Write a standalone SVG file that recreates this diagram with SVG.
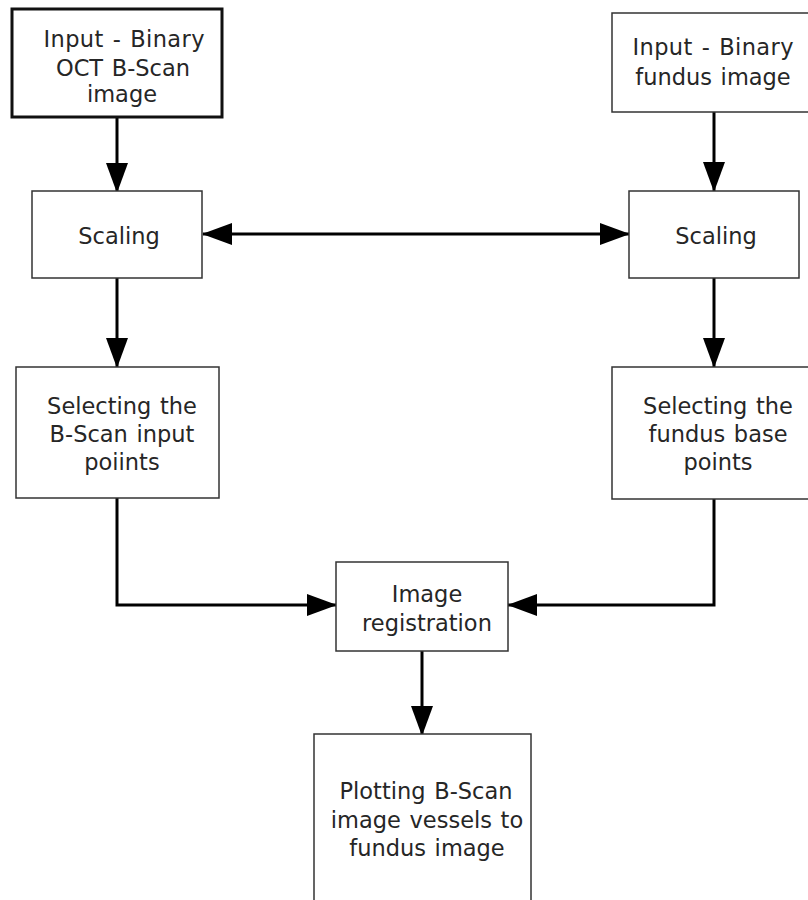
<svg xmlns="http://www.w3.org/2000/svg" width="808" height="900" viewBox="0 0 808 900">
<defs>
<style>
.box{fill:#fff;stroke:#333;stroke-width:1.5}
.thick{fill:#fff;stroke:#111;stroke-width:3}
.t{font-family:"DejaVu Sans",Verdana,sans-serif;font-size:22.5px;fill:#262626;text-anchor:middle;word-spacing:1.5px}
.c{fill:none;stroke:#000;stroke-width:3}
</style>
<marker id="ah" markerUnits="userSpaceOnUse" markerWidth="30" markerHeight="22" viewBox="0 0 30 22" refX="29" refY="11" orient="auto-start-reverse">
<path d="M0,0 L30,11 L0,22 z" fill="#000"/>
</marker>
</defs>
<rect width="808" height="900" fill="#fff"/>
<g id="connectors">
<line class="c" x1="117" y1="117" x2="117" y2="192" marker-end="url(#ah)"/>
<line class="c" x1="714" y1="112" x2="714" y2="191" marker-end="url(#ah)"/>
<line class="c" x1="203" y1="234" x2="629" y2="234" marker-start="url(#ah)" marker-end="url(#ah)"/>
<line class="c" x1="117" y1="278" x2="117" y2="367" marker-end="url(#ah)"/>
<line class="c" x1="714" y1="278" x2="714" y2="367" marker-end="url(#ah)"/>
<polyline class="c" points="117,498 117,605 336,605" marker-end="url(#ah)"/>
<polyline class="c" points="714,499 714,605 508,605" marker-end="url(#ah)"/>
<line class="c" x1="422" y1="651" x2="422" y2="735" marker-end="url(#ah)"/>
</g>
<g id="n1">
<rect class="thick" x="12" y="9" width="210" height="108"/>
<text class="t" x="124" y="47" textLength="161" lengthAdjust="spacing">Input - Binary</text>
<text class="t" x="123" y="76">OCT B-Scan</text>
<text class="t" x="122" y="102">image</text>
</g>
<g id="n2">
<rect class="box" x="612" y="13" width="200" height="99"/>
<text class="t" x="713" y="55" textLength="161" lengthAdjust="spacing">Input - Binary</text>
<text class="t" x="713" y="85">fundus image</text>
</g>
<g id="n3">
<rect class="box" x="32" y="191" width="170" height="87"/>
<text class="t" x="119" y="244">Scaling</text>
</g>
<g id="n4">
<rect class="box" x="629" y="191" width="170" height="87"/>
<text class="t" x="716" y="244">Scaling</text>
</g>
<g id="n5">
<rect class="box" x="16" y="367" width="203" height="131"/>
<text class="t" x="122" y="414">Selecting the</text>
<text class="t" x="122" y="442">B-Scan input</text>
<text class="t" x="122" y="470">poiints</text>
</g>
<g id="n6">
<rect class="box" x="612" y="367" width="200" height="132"/>
<text class="t" x="718" y="414">Selecting the</text>
<text class="t" x="718" y="442">fundus base</text>
<text class="t" x="718" y="470">points</text>
</g>
<g id="n7">
<rect class="box" x="336" y="562" width="172" height="89"/>
<text class="t" x="427" y="602">Image</text>
<text class="t" x="427" y="631">registration</text>
</g>
<g id="n8">
<rect class="box" x="314" y="734" width="217" height="175"/>
<text class="t" x="426" y="799">Plotting B-Scan</text>
<text class="t" x="427" y="828">image vessels to</text>
<text class="t" x="427" y="856">fundus image</text>
</g>
</svg>
